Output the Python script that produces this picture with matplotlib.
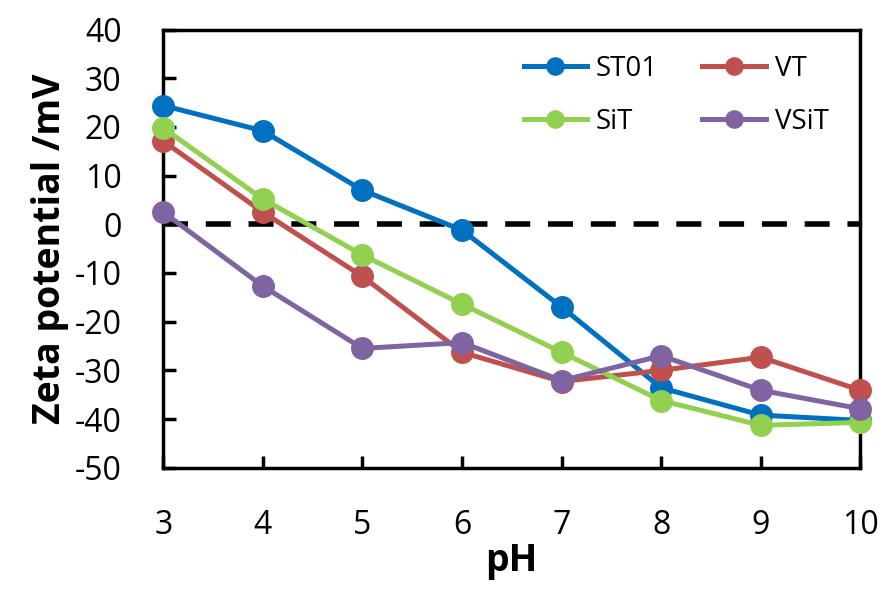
import matplotlib.pyplot as plt

ph = [3, 4, 5, 6, 7, 8, 9, 10]
st01 = [24.4, 19.2, 7.0, -1.2, -17.0, -33.6, -39.2, -40.3]
vt = [17.1, 2.5, -10.7, -26.3, -32.3, -30.0, -27.3, -34.1]
sit = [19.8, 5.2, -6.3, -16.4, -26.3, -36.2, -41.3, -40.7]
vsit = [2.5, -12.7, -25.5, -24.3, -32.1, -27.0, -34.1, -37.9]

series = [("ST01", st01, "#0070C0"),
          ("VT", vt, "#C0504D"),
          ("SiT", sit, "#92D050"),
          ("VSiT", vsit, "#8064A2")]

plt.rcParams['font.family'] = ['Open Sans', 'DejaVu Sans']
plt.rcParams['axes.unicode_minus'] = False

fig = plt.figure(figsize=(8.87, 5.92), dpi=100)
ax = fig.add_axes([0.184, 0.210, 0.786, 0.740])

ax.axhline(0, color='black', lw=4, ls=(0, (4.5, 3.2)), zorder=1)

lines = {}
for name, vals, col in series:
    lines[name], = ax.plot(ph, vals, '-o', color=col, lw=3.6, ms=15.5,
                           label=name, zorder=3, clip_on=False)

ax.set_xlim(3, 10)
ax.set_ylim(-50, 40)
ax.set_xticks(ph)
ax.set_yticks(range(-50, 41, 10))
ax.tick_params(direction='in', length=9, width=2.5, labelsize=23)
ax.tick_params(axis='x', pad=30)
ax.tick_params(axis='y', pad=30)
for sp in ax.spines.values():
    sp.set_linewidth(2.5)

ax.set_xlabel("pH", fontsize=27, fontweight='bold', labelpad=0)
ax.set_ylabel("Zeta potential /mV", fontsize=27, fontweight='bold', labelpad=4)

# legend fills column-wise, so reorder to get ST01 VT / SiT VSiT rows
order = ["ST01", "SiT", "VT", "VSiT"]
ax.legend([lines[n] for n in order], order, ncol=2, loc='upper right',
          frameon=False, fontsize=20, handlelength=2.3, columnspacing=1.6,
          handletextpad=0.3, labelspacing=0.9, markerscale=0.8,
          bbox_to_anchor=(0.99, 1.0))

fig.savefig("out.png", dpi=100)
